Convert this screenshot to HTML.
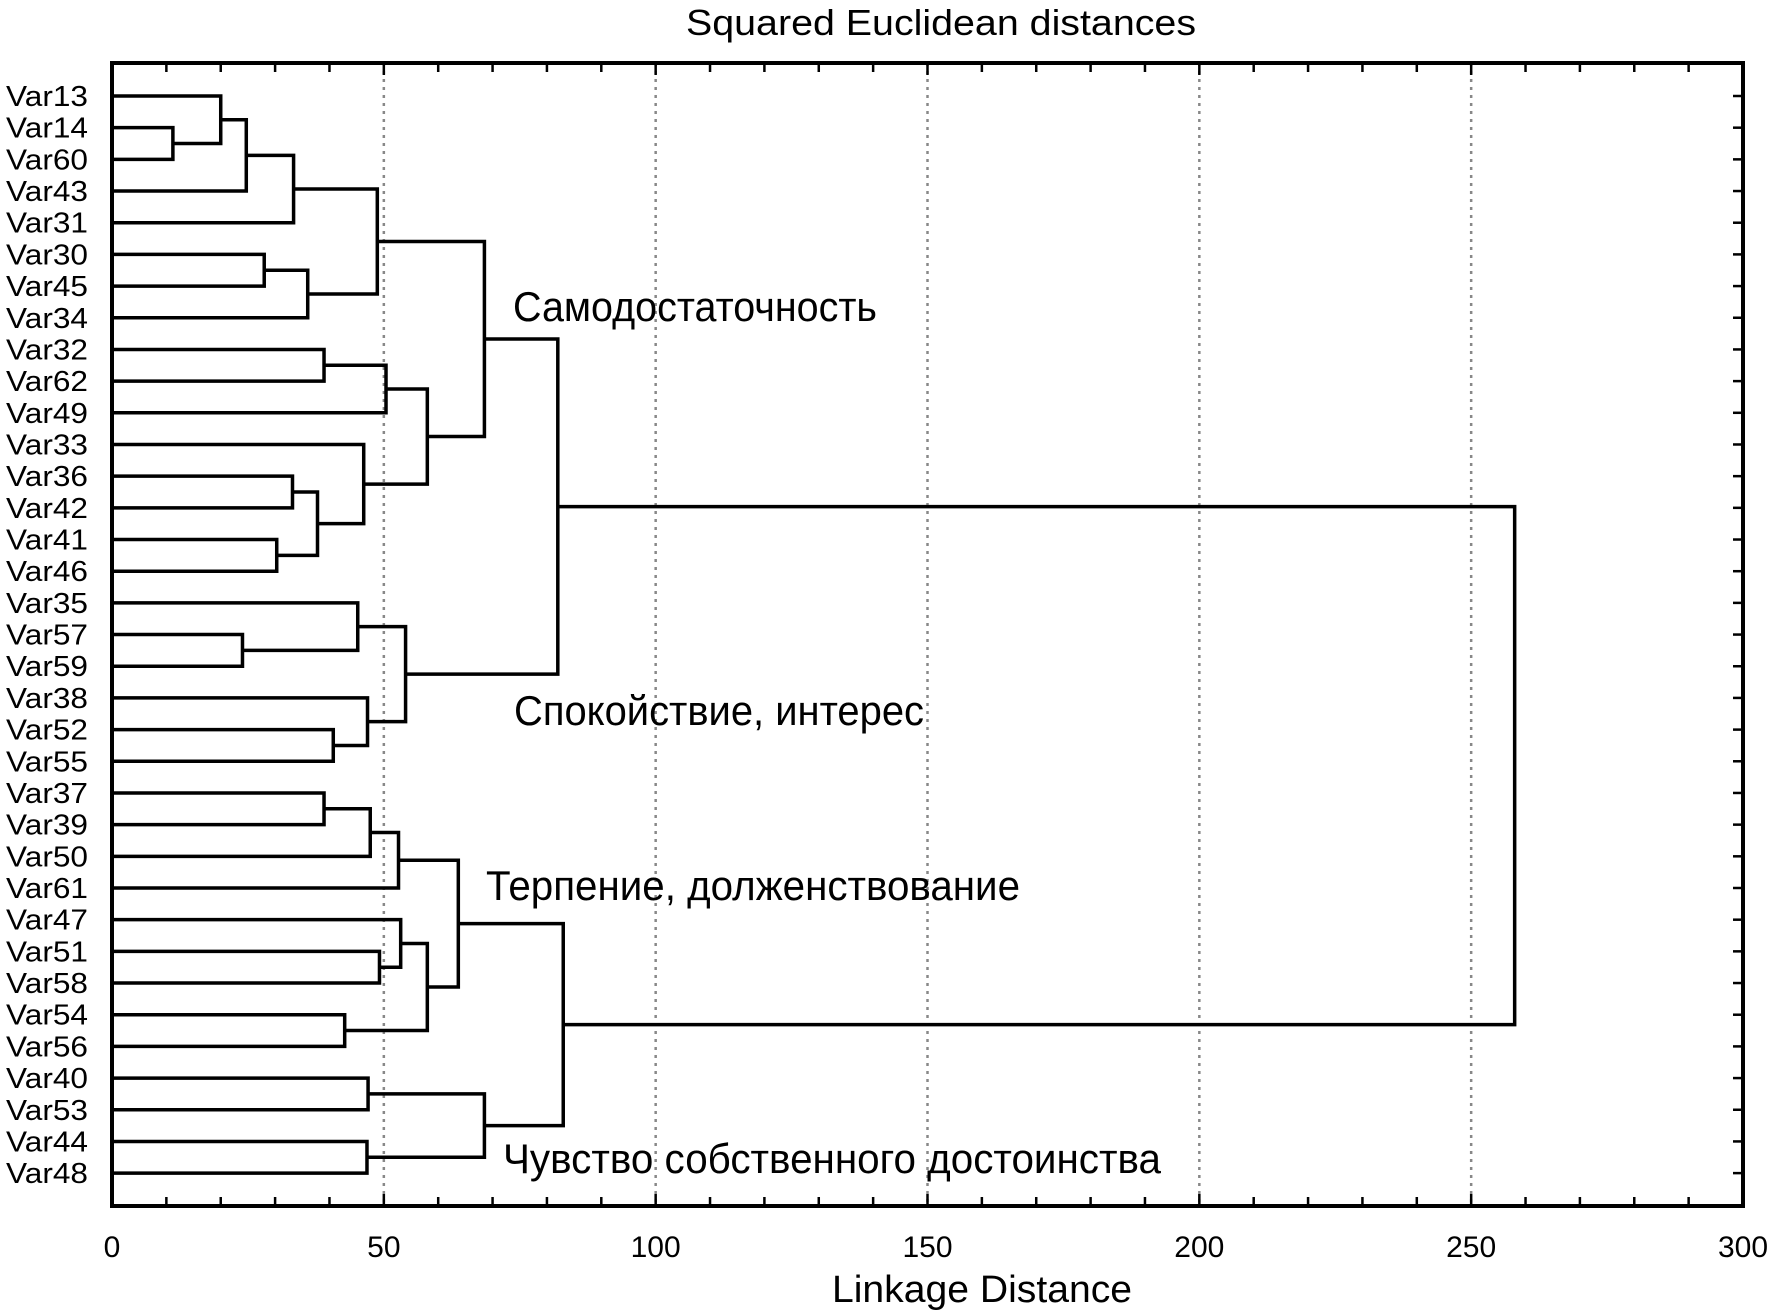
<!DOCTYPE html>
<html><head><meta charset="utf-8"><style>
body{margin:0;background:#fff}
svg{display:block}
text{font-family:"Liberation Sans","DejaVu Sans",sans-serif;fill:#000}
</style></head><body>
<svg id="chart" width="1772" height="1315" viewBox="0 0 1772 1315" xmlns="http://www.w3.org/2000/svg">
<rect width="1772" height="1315" fill="#fff"/>
<text x="941" y="35" font-size="36" text-anchor="middle" textLength="510" lengthAdjust="spacingAndGlyphs">Squared Euclidean distances</text>
<text x="982" y="1302" font-size="38" text-anchor="middle" textLength="300" lengthAdjust="spacingAndGlyphs">Linkage Distance</text>
<g id="grid"></g><g id="tree"></g><g id="axes"></g><g id="labels"></g>
<text x="513" y="321" font-size="42" textLength="364" lengthAdjust="spacingAndGlyphs">Самодостаточность</text>
<text x="514" y="725" font-size="42" textLength="410" lengthAdjust="spacingAndGlyphs">Спокойствие, интерес</text>
<text x="486" y="900" font-size="42" textLength="534" lengthAdjust="spacingAndGlyphs">Терпение, долженствование</text>
<text x="503" y="1173" font-size="42" textLength="658" lengthAdjust="spacingAndGlyphs">Чувство собственного достоинства</text>
</svg>
<script>
const leaves = ["Var13","Var14","Var60","Var43","Var31","Var30","Var45","Var34","Var32","Var62","Var49","Var33","Var36","Var42","Var41","Var46","Var35","Var57","Var59","Var38","Var52","Var55","Var37","Var39","Var50","Var61","Var47","Var51","Var58","Var54","Var56","Var40","Var53","Var44","Var48"];
// merges: [left, right, height]; left/right = leaf name or "c<index>" of earlier merge
const mergeLeft = ["Var14","Var13","c1","c2","Var30","c4","c3","Var32","c7","Var36","Var41","c9","Var33","c8","c6","Var57","Var35","Var52","Var38","c16","c14","Var37","c21","c22","Var51","Var47","Var54","c25","c23","Var40","Var44","c29","c28","c20"];
const mergeRight = ["Var60","c0","Var43","Var31","Var45","Var34","c5","Var62","Var49","Var42","Var46","c10","c11","c12","c13","Var59","c15","Var55","c17","c18","c19","Var39","Var50","Var61","Var58","c24","Var56","c26","c27","Var53","Var48","c30","c31","c32"];
const mergeHeight = [11.2,20,24.7,33.4,28,36,48.8,39,50.4,33.2,30.3,37.8,46.3,58,68.5,24,45.2,40.7,47,54,82,39,47.5,52.7,49.2,53.1,42.8,58,63.7,47.1,46.9,68.5,83,258];
const xTicks = [0,50,100,150,200,250,300];

const X0=112, X1=1743, Y0=63, Y1=1206, ROW0=96, ROWSTEP=31.68, XMAX=300;
const xs = v => X0 + (v/XMAX)*(X1-X0);
const ys = i => ROW0 + i*ROWSTEP;
const NS="http://www.w3.org/2000/svg";
function mk(tag, attrs, parent){const e=document.createElementNS(NS,tag);for(const k in attrs)e.setAttribute(k,attrs[k]);parent.appendChild(e);return e;}

const grid=document.getElementById('grid');
xTicks.slice(1,-1).forEach(t=>{
  const l=mk('line',{x1:xs(t),x2:xs(t),y1:Y0,y2:Y1,stroke:'#888','stroke-width':2.5,'stroke-dasharray':'3,5'},grid);
  
  
});

const tree=document.getElementById('tree');
const pos={};
leaves.forEach((n,i)=>{pos[n]={x:xs(0),y:ys(i)};});
mergeLeft.forEach((a,i)=>{
  const b=mergeRight[i], h=xs(mergeHeight[i]);
  const pa=pos[a], pb=pos[b];
  const p=mk('path',{d:`M${pa.x},${pa.y}H${h}V${pb.y}H${pb.x}`,fill:'none',stroke:'#000','stroke-width':3.5},tree);
  
  
  pos['c'+i]={x:h,y:(pa.y+pb.y)/2};
});

const axes=document.getElementById('axes');
const frame=mk('rect',{x:X0,y:Y0,width:X1-X0,height:Y1-Y0,fill:'none',stroke:'#000','stroke-width':4},axes);


for(let v=10;v<XMAX;v+=10){
  const len=(v%50===0)?12:9;
  mk('line',{x1:xs(v),x2:xs(v),y1:Y1,y2:Y1-len,stroke:'#000','stroke-width':2.5},axes);
  mk('line',{x1:xs(v),x2:xs(v),y1:Y0,y2:Y0+len,stroke:'#000','stroke-width':2.5},axes);
}
leaves.forEach((n,i)=>{mk('line',{x1:X1,x2:X1-10,y1:ys(i),y2:ys(i),stroke:'#000','stroke-width':2.5},axes);});

const labels=document.getElementById('labels');
xTicks.forEach(t=>{
  const tx=mk('text',{x:xs(t),y:1257,'font-size':30,'text-anchor':'middle'},labels);
  tx.textContent=t;
  
  
});
leaves.forEach((n,i)=>{
  const tx=mk('text',{x:88,y:ys(i)+10,'font-size':29,'text-anchor':'end',textLength:82,lengthAdjust:'spacingAndGlyphs'},labels);
  tx.textContent=n;
  
  
});
</script>
</body></html>
